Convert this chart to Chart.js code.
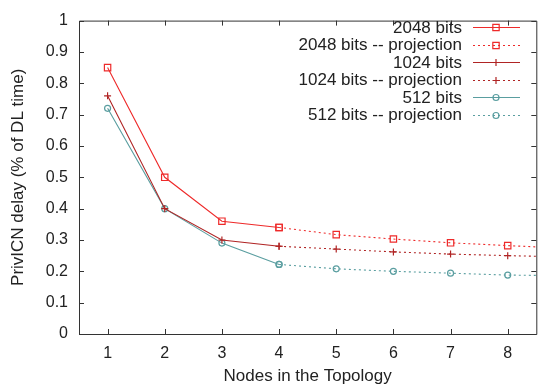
<!DOCTYPE html>
<html>
<head>
    <title>PrivICN delay</title>
    <script src="https://cdn.jsdelivr.net/npm/chart.js"></script>
    <style>
        html, body { margin: 0; padding: 0; background: #fff; overflow: hidden; }
        #wrap { width: 542px; height: 387px; }
    </style>
</head>
<body>
<div id="wrap"><canvas id="c" width="542" height="387"></canvas></div>
<script>
    // measured values
    const nodes = [1, 2, 3, 4];
    const projNodes = [4, 5, 6, 7, 8, 8.5];
    const bits2048 = [0.85, 0.50, 0.36, 0.34];
    const bits2048Proj = [0.34, 0.317, 0.303, 0.291, 0.282, 0.278];
    const bits1024 = [0.76, 0.40, 0.30, 0.28];
    const bits1024Proj = [0.28, 0.271, 0.262, 0.255, 0.250, 0.248];
    const bits512 = [0.72, 0.40, 0.29, 0.222];
    const bits512Proj = [0.222, 0.208, 0.200, 0.194, 0.188, 0.187];
    const yTicks = [0, 0.1, 0.2, 0.3, 0.4, 0.5, 0.6, 0.7, 0.8, 0.9, 1];
    const xTicks = [1, 2, 3, 4, 5, 6, 7, 8];

    const red = '#ee2a2a', dark = '#b02424', teal = '#5a9ea0';
    const FONT = '"Liberation Sans", Arial, sans-serif';

    function pts(xs, ys) { return xs.map((x, i) => ({ x: x, y: ys[i] })); }
    function radii(xs, r) { return xs.map(x => (Number.isInteger(x) ? r : 0)); }

    function ds(label, xs, ys, color, style, r, dotted) {
        return {
            label: label,
            data: pts(xs, ys),
            borderColor: color,
            backgroundColor: 'rgba(0,0,0,0)',
            borderWidth: 1.1,
            borderDash: dotted ? [2, 3] : [],
            pointStyle: style,
            pointRadius: radii(xs, r),
            pointBorderColor: color,
            pointBorderWidth: 1.2,
            pointBackgroundColor: 'rgba(0,0,0,0)',
            tension: 0,
            fill: false
        };
    }

    const datasets = [
        ds('2048 bits', nodes, bits2048, red, 'rect', 4.5, false),
        ds('2048 bits -- projection', projNodes, bits2048Proj, red, 'rect', 4.5, true),
        ds('1024 bits', nodes, bits1024, dark, 'cross', 3.5, false),
        ds('1024 bits -- projection', projNodes, bits1024Proj, dark, 'cross', 3.5, true),
        ds('512 bits', nodes, bits512, teal, 'circle', 3, false),
        ds('512 bits -- projection', projNodes, bits512Proj, teal, 'circle', 3, true)
    ];

    // gnuplot-like frame with inward ticks and right-aligned key
    const framePlugin = {
        id: 'frame',
        afterDatasetsDraw(chart) {
            const ctx = chart.ctx, a = chart.chartArea;
            const xs = chart.scales.x, ys = chart.scales.y;
            ctx.save();
            ctx.strokeStyle = '#333';
            ctx.lineWidth = 1;
            ctx.beginPath();
            ctx.moveTo(a.left + 0.5, a.top + 0.5);
            ctx.lineTo(a.right + 0.5, a.top + 0.5);
            ctx.lineTo(a.right + 0.5, a.bottom + 0.5);
            ctx.lineTo(a.left + 0.5, a.bottom + 0.5);
            ctx.closePath();
            ctx.stroke();
            ctx.beginPath();
            xTicks.forEach(v => {
                const px = Math.round(xs.getPixelForValue(v)) + 0.5;
                ctx.moveTo(px, a.bottom); ctx.lineTo(px, a.bottom - 5);
                ctx.moveTo(px, a.top); ctx.lineTo(px, a.top + 5);
            });
            yTicks.forEach(v => {
                const py = Math.round(ys.getPixelForValue(v)) + 0.5;
                ctx.moveTo(a.left, py); ctx.lineTo(a.left + 5, py);
                ctx.moveTo(a.right, py); ctx.lineTo(a.right - 5, py);
            });
            ctx.stroke();

            // key
            ctx.font = '17px ' + FONT;
            ctx.textAlign = 'right';
            ctx.textBaseline = 'middle';
            chart.data.datasets.forEach((d, i) => {
                const y = 27 + i * 17.5;
                const yy = Math.round(y) + 0.5;
                ctx.fillStyle = '#222';
                ctx.fillText(d.label, 462, y + 1);
                ctx.strokeStyle = d.borderColor;
                ctx.lineWidth = 1.1;
                ctx.setLineDash(d.borderDash);
                ctx.beginPath();
                ctx.moveTo(473, yy);
                ctx.lineTo(520, yy);
                ctx.stroke();
                ctx.setLineDash([]);
                ctx.fillStyle = 'rgba(0,0,0,0)';
                ctx.lineWidth = 1.2;
                const r = d.pointRadius.find(v => v > 0);
                Chart.helpers.drawPoint(ctx, {
                    pointStyle: d.pointStyle, radius: r, borderWidth: 1.2
                }, 496, yy);
            });
            ctx.restore();
        }
    };

    new Chart(document.getElementById('c'), {
        type: 'line',
        data: { datasets: datasets },
        options: {
            responsive: false,
            animation: false,
            layout: { padding: { top: 14, right: 0, left: 0, bottom: 0 } },
            plugins: { legend: { display: false }, tooltip: { enabled: false } },
            scales: {
                x: {
                    type: 'linear', min: 0.5, max: 8.5,
                    afterBuildTicks: s => { s.ticks = xTicks.map(v => ({ value: v })); },
                    afterFit: s => { s.height = 53; },
                    grid: { display: false, drawTicks: false },
                    border: { display: false },
                    ticks: { color: '#222', padding: 10, font: { family: FONT, size: 16 } },
                    title: { display: true, text: 'Nodes in the Topology', color: '#222',
                             padding: { top: 2, bottom: 0 }, font: { family: FONT, size: 17 } }
                },
                y: {
                    min: 0, max: 1,
                    afterBuildTicks: s => { s.ticks = yTicks.map(v => ({ value: v })); },
                    afterFit: s => { s.width = 79; },
                    grid: { display: false, drawTicks: false },
                    border: { display: false },
                    ticks: { color: '#222', padding: 11, font: { family: FONT, size: 16 },
                             callback: v => String(Math.round(v * 10) / 10) },
                    title: { display: true, text: 'PrivICN delay (% of DL time)', color: '#222',
                             padding: { top: 8, bottom: 0 }, font: { family: FONT, size: 17 } }
                }
            }
        },
        plugins: [framePlugin]
    });
</script>
</body>
</html>
